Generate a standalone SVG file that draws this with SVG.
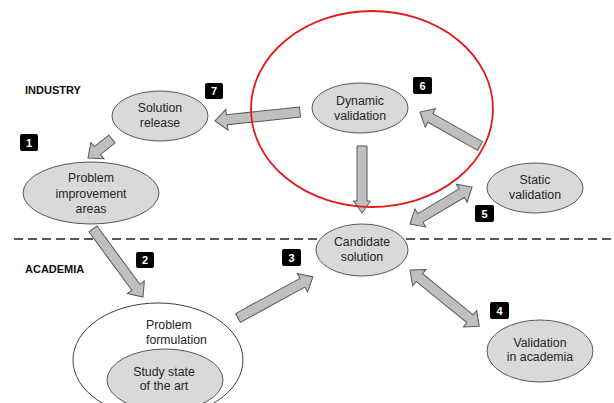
<svg xmlns="http://www.w3.org/2000/svg" width="614" height="403" viewBox="0 0 614 403">
  <style>
    .node { fill: #d9d9d9; stroke: #595959; stroke-width: 1; }
    .outer { fill: #ffffff; stroke: #404040; stroke-width: 1; }
    .lbl { font-family: "Liberation Sans", Arial, sans-serif; font-size: 12.3px; fill: #262626; text-anchor: middle; }
    .lbl-left { font-family: "Liberation Sans", Arial, sans-serif; font-size: 12.3px; fill: #262626; text-anchor: start; }
    .zone { font-family: "Liberation Sans", Arial, sans-serif; font-size: 11px; font-weight: bold; fill: #111; }
    .badge rect { fill: #000; }
    .badge text { font-family: "Liberation Sans", Arial, sans-serif; font-size: 11px; font-weight: bold; fill: #fff; text-anchor: middle; }
    .arrow { fill: #bfbfbf; stroke: #595959; stroke-width: 1; stroke-linejoin: miter; }
  </style>

  <rect width="614" height="403" fill="#ffffff"/>

  <!-- boundary between industry and academia -->
  <line x1="14" y1="239" x2="614" y2="239" stroke="#222" stroke-width="1.6" stroke-dasharray="9,5"/>
  <text class="zone" x="25" y="94">INDUSTRY</text>
  <text class="zone" x="25" y="273">ACADEMIA</text>

  <!-- nodes -->
  <g id="solution-release">
    <ellipse class="node" cx="160" cy="116" rx="48" ry="25"/>
    <text class="lbl" x="160" y="112">Solution</text>
    <text class="lbl" x="160" y="127">release</text>
  </g>
  <g id="problem-improvement">
    <ellipse class="node" cx="91" cy="193" rx="68" ry="31"/>
    <text class="lbl" x="91" y="182">Problem</text>
    <text class="lbl" x="91" y="197.5">improvement</text>
    <text class="lbl" x="91" y="213">areas</text>
  </g>
  <g id="dynamic-validation">
    <ellipse class="node" cx="360" cy="108" rx="48" ry="25"/>
    <text class="lbl" x="360" y="105">Dynamic</text>
    <text class="lbl" x="360" y="120">validation</text>
  </g>
  <g id="static-validation">
    <ellipse class="node" cx="535" cy="188" rx="48" ry="25"/>
    <text class="lbl" x="535" y="184">Static</text>
    <text class="lbl" x="535" y="199">validation</text>
  </g>
  <g id="candidate-solution">
    <ellipse class="node" cx="362" cy="250" rx="46" ry="26"/>
    <text class="lbl" x="362" y="246">Candidate</text>
    <text class="lbl" x="362" y="261">solution</text>
  </g>
  <g id="validation-academia">
    <ellipse class="node" cx="540" cy="351" rx="53" ry="31"/>
    <text class="lbl" x="540" y="347">Validation</text>
    <text class="lbl" x="540" y="361">in academia</text>
  </g>
  <g id="problem-formulation">
    <ellipse class="outer" cx="158" cy="360" rx="85" ry="57"/>
    <text class="lbl-left" x="146" y="329">Problem</text>
    <text class="lbl-left" x="146" y="344">formulation</text>
  </g>
  <g id="study-state-of-the-art">
    <ellipse class="node" cx="165" cy="380" rx="58" ry="31"/>
    <text class="lbl" x="164" y="376">Study state</text>
    <text class="lbl" x="164" y="390">of the art</text>
  </g>

  <!-- connectors: block arrows drawn along +x, then placed -->
  <g id="connectors">
    <!-- dynamic validation -> solution release -->
    <polygon class="arrow" transform="translate(300,112) rotate(173.96)" points="0,-5 73.5,-5 73.5,-10.5 85.5,0 73.5,10.5 73.5,5 0,5"/>
    <!-- solution release -> problem improvement areas -->
    <polygon class="arrow" transform="translate(112,139) rotate(141.6)" points="0,-5 18.6,-5 18.6,-10.5 30.6,0 18.6,10.5 18.6,5 0,5"/>
    <!-- problem improvement areas -> problem formulation -->
    <polygon class="arrow" transform="translate(93,229) rotate(53.7)" points="0,-5 72.4,-5 72.4,-10.5 84.4,0 72.4,10.5 72.4,5 0,5"/>
    <!-- problem formulation -> candidate solution -->
    <polygon class="arrow" transform="translate(238,318) rotate(-28.7)" points="0,-5 73.5,-5 73.5,-10.5 85.5,0 73.5,10.5 73.5,5 0,5"/>
    <!-- dynamic validation -> candidate solution -->
    <polygon class="arrow" transform="translate(362,146) rotate(90)" points="0,-5 55,-5 55,-8.5 67,0 55,8.5 55,5 0,5"/>
    <!-- static validation -> dynamic validation -->
    <polygon class="arrow" transform="translate(480,146) rotate(-150.5)" points="0,-5 57,-5 57,-10.5 69,0 57,10.5 57,5 0,5"/>
    <!-- candidate solution <-> static validation -->
    <polygon class="arrow" transform="translate(410,224) rotate(-30.8)" points="0,0 12,-10.5 12,-5 60.2,-5 60.2,-10.5 72.2,0 60.2,10.5 60.2,5 12,5 12,10.5"/>
    <!-- candidate solution <-> validation in academia -->
    <polygon class="arrow" transform="translate(410,270) rotate(39.1)" points="0,0 12,-10.5 12,-5 77.3,-5 77.3,-10.5 89.3,0 77.3,10.5 77.3,5 12,5 12,10.5"/>
  </g>

  <!-- highlight around dynamic validation -->
  <ellipse id="dynamic-focus" cx="372" cy="109" rx="121" ry="98" fill="none" stroke="#e41a1a" stroke-width="1.8"/>

  <!-- step numbers -->
  <g class="badge" id="step-1"><rect x="20" y="134" width="18" height="17" rx="2"/><text x="29" y="146.5">1</text></g>
  <g class="badge" id="step-2"><rect x="136" y="252" width="18" height="16" rx="2"/><text x="145" y="264">2</text></g>
  <g class="badge" id="step-3"><rect x="282" y="249" width="19" height="17" rx="2"/><text x="291.5" y="261.5">3</text></g>
  <g class="badge" id="step-4"><rect x="490" y="302" width="19" height="17" rx="2"/><text x="499.5" y="314.5">4</text></g>
  <g class="badge" id="step-5"><rect x="475" y="205" width="19" height="17" rx="2"/><text x="484.5" y="217.5">5</text></g>
  <g class="badge" id="step-6"><rect x="413" y="77" width="19" height="17" rx="2"/><text x="422.5" y="89.5">6</text></g>
  <g class="badge" id="step-7"><rect x="205" y="83" width="18" height="16" rx="2"/><text x="214" y="95">7</text></g>
</svg>
